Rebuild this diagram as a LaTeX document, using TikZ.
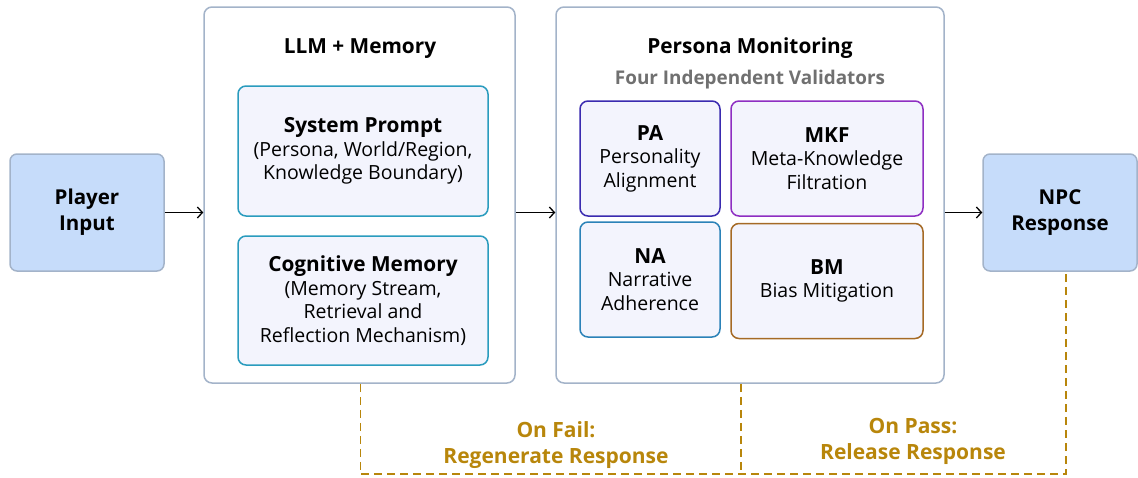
\documentclass[tikz,border=0pt]{standalone}
\usepackage{fontspec}
\setmainfont{Open Sans}
\usetikzlibrary{arrows.meta}

\definecolor{ioblue}{HTML}{C6DCFA}
\definecolor{frameline}{HTML}{A3B3C9}
\definecolor{cardfill}{HTML}{F3F4FD}
\definecolor{tealline}{HTML}{2A9CBE}
\definecolor{paline}{HTML}{3A2BB0}
\definecolor{mkfline}{HTML}{8E2EC2}
\definecolor{naline}{HTML}{2B82B8}
\definecolor{bmline}{HTML}{A56A25}
\definecolor{loopgold}{HTML}{B8860B}
\definecolor{subgray}{HTML}{707070}

\tikzset{
  io/.style={draw=frameline, fill=ioblue, rounded corners=7pt, line width=1.5pt,
    minimum width=154pt, minimum height=117pt, align=center,
    font=\bfseries\fontsize{20.5}{26}\selectfont},
  stage/.style={draw=frameline, fill=white, rounded corners=8pt, line width=1.5pt},
  card/.style={fill=cardfill, rounded corners=8pt, line width=1.5pt, align=center,
    font=\fontsize{19.5}{23.5}\selectfont},
  heading/.style={font=\bfseries\fontsize{20.8}{24}\selectfont},
  flow/.style={-{Straight Barb[length=5pt,width=11pt]}, line width=1.3pt},
  feedback/.style={draw=loopgold, line width=1.8pt, dash pattern=on 8pt off 5pt},
  looplabel/.style={text=loopgold, align=center, font=\bfseries\fontsize{21}{26}\selectfont}
}

\begin{document}
\begin{tikzpicture}[x=1pt, y=-1pt]
  \useasboundingbox (0,0) rectangle (1138,477);

  \node[io] (Player) at (87,212.5) {Player\\Input};

  \node[stage, minimum width=311pt, minimum height=376pt] (LLM) at (359.5,195) {};
  \node[heading] (LLMtitle) at (360,48.5) {LLM + Memory};
  \node[card, draw=tealline, minimum width=250pt, minimum height=130pt] (Prompt) at (363,151)
    {\textbf{\fontsize{20.8}{23.5}\selectfont System Prompt}\\(Persona, World/Region,\\Knowledge Boundary)};
  \node[card, draw=tealline, minimum width=250pt, minimum height=129pt] (Memory) at (363,300.5)
    {\textbf{\fontsize{20.8}{23.5}\selectfont Cognitive Memory}\\(Memory Stream,\\Retrieval and\\Reflection Mechanism)};

  \node[stage, minimum width=388pt, minimum height=376pt] (Monitor) at (750,195) {};
  \node[heading] (Montitle) at (750,48.5) {Persona Monitoring};
  \node[heading, text=subgray, font=\bfseries\fontsize{18.9}{22}\selectfont] (Monsub) at (750,79.5) {Four Independent Validators};
  \node[card, draw=paline, minimum width=140pt, minimum height=115pt] (PA) at (650,158.5)
    {\textbf{\fontsize{20.8}{23}\selectfont PA}\\Personality\\Alignment};
  \node[card, draw=mkfline, minimum width=192pt, minimum height=115pt] (MKF) at (827,158.5)
    {\textbf{\fontsize{20.8}{23}\selectfont MKF}\\Meta-Knowledge\\Filtration};
  \node[card, draw=naline, minimum width=140pt, minimum height=115pt] (NA) at (650,279.5)
    {\textbf{\fontsize{20.8}{23}\selectfont NA}\\Narrative\\Adherence};
  \node[card, draw=bmline, minimum width=192pt, minimum height=115pt] (BM) at (827,281)
    {\textbf{\fontsize{20.8}{23}\selectfont BM}\\Bias Mitigation};

  \node[io] (NPC) at (1060,212.5) {NPC\\Response};

  \path[flow] (Player) edge (Player -| LLM.west);
  \path[flow] (LLM.east |- Player) edge (Monitor.west |- Player);
  \path[flow] (Monitor.east |- NPC) edge (NPC);

  % feedback loops below the stages
  \coordinate (base) at (0,474);
  \draw[feedback] ([xshift=1pt]LLM.south) -- ([xshift=1pt]LLM.south |- base) -- ([xshift=6pt]NPC.south |- base) -- ([xshift=6pt]NPC.south);
  \draw[feedback] ([xshift=-9pt]Monitor.south) -- ([xshift=-9pt]Monitor.south |- base);

  \node[looplabel] (failtext) at (556,445) {On Fail:\\Regenerate Response};
  \node[looplabel] (passtext) at (913,441) {On Pass:\\Release Response};
\end{tikzpicture}
\end{document}
